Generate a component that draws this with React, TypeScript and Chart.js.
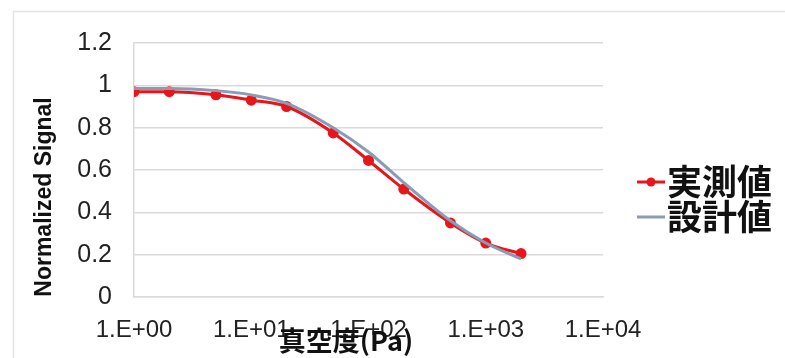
import React, { useEffect, useRef } from "react";
import { Chart, registerables } from "chart.js";

Chart.register(...registerables);

const pressure = [1, 2, 5, 10, 20, 50, 100, 200, 500, 1000, 2000];
const measured = [0.97, 0.97, 0.955, 0.93, 0.9, 0.775, 0.645, 0.51, 0.35, 0.255, 0.205];
const design = [0.985, 0.985, 0.975, 0.955, 0.915, 0.8, 0.685, 0.54, 0.36, 0.255, 0.18];
const seriesNames = ["実測値", "設計値"];
const xTicks = [1, 10, 100, 1000, 10000];
const xTitle = "真空度(Pa)";
const yTitle = "Normalized Signal";

const LATIN = "'Liberation Sans', Arial, sans-serif";
const CJK = "'Noto Sans CJK JP', 'Noto Sans CJK SC', sans-serif";

const fmtX = (v: number) => {
  const e = Math.round(Math.log10(v));
  return "1.E+" + (e < 10 ? "0" + e : String(e));
};

const decor = {
  id: "decor",
  beforeDraw(chart: any) {
    const { ctx, width, height } = chart;
    ctx.save();
    ctx.fillStyle = "#fff";
    ctx.fillRect(0, 0, width, height);
    ctx.strokeStyle = "#e3e3e3";
    ctx.lineWidth = 1.5;
    ctx.strokeRect(13.5, 11.5, width + 20, height + 20);
    ctx.restore();
  },
  afterDraw(chart: any) {
    const { ctx, chartArea } = chart;
    ctx.save();
    ctx.fillStyle = "#111";
    ctx.font = "bold 23px " + LATIN;
    ctx.textAlign = "center";
    ctx.textBaseline = "middle";
    ctx.translate(45, 197);
    ctx.rotate(-Math.PI / 2);
    ctx.fillText(yTitle, 0, 0);
    ctx.restore();

    ctx.save();
    ctx.fillStyle = "#111";
    ctx.font = "bold 27px " + CJK;
    ctx.textAlign = "center";
    ctx.textBaseline = "middle";
    ctx.fillText(xTitle, 346, 341);
    ctx.restore();

    ctx.save();
    const x0 = chartArea.right + 34;
    chart.data.datasets.forEach((ds: any, i: number) => {
      const y = 182 + i * 35;
      ctx.strokeStyle = ds.borderColor;
      ctx.lineWidth = 3;
      ctx.beginPath();
      ctx.moveTo(x0, y);
      ctx.lineTo(x0 + 28, y);
      ctx.stroke();
      if (ds.pointRadius > 0) {
        ctx.fillStyle = ds.pointBackgroundColor;
        ctx.beginPath();
        ctx.arc(x0 + 14, y, 4.5, 0, Math.PI * 2);
        ctx.fill();
      }
      ctx.fillStyle = "#111";
      ctx.font = "bold 35px " + CJK;
      ctx.textAlign = "left";
      ctx.textBaseline = "middle";
      ctx.fillText(ds.label, x0 + 30, y);
    });
    ctx.restore();
  },
};

export default function App() {
  const ref = useRef<HTMLCanvasElement | null>(null);
  useEffect(() => {
    if (!ref.current) return;
    const chart = new Chart(ref.current, {
      type: "line",
      data: {
        datasets: [
          {
            label: seriesNames[0],
            data: pressure.map((p, i) => ({ x: p, y: measured[i] })),
            borderColor: "#e8161b",
            backgroundColor: "#e8161b",
            pointBackgroundColor: "#e8161b",
            pointBorderColor: "#e8161b",
            pointRadius: 4,
            borderWidth: 3,
            cubicInterpolationMode: "monotone",
            order: 2,
          },
          {
            label: seriesNames[1],
            data: pressure.map((p, i) => ({ x: p, y: design[i] })),
            borderColor: "#8a9bb5",
            backgroundColor: "#8a9bb5",
            pointBackgroundColor: "#8a9bb5",
            pointRadius: 0,
            borderWidth: 3,
            cubicInterpolationMode: "monotone",
            order: 1,
          },
        ],
      },
      options: {
        responsive: false,
        animation: false,
        layout: { padding: { left: 0, right: 182, top: 43, bottom: 0 } },
        plugins: { legend: { display: false }, tooltip: { enabled: false } },
        scales: {
          x: {
            type: "logarithmic",
            min: 1,
            max: 10000,
            grid: { display: false },
            border: { display: true, color: "#d9d9d9", width: 1.5 },
            afterBuildTicks: (scale: any) => {
              scale.ticks = xTicks.map((v) => ({ value: v }));
            },
            afterFit: (scale: any) => {
              scale.height = 61;
            },
            ticks: {
              autoSkip: false,
              maxRotation: 0,
              padding: 11,
              color: "#222",
              font: { size: 24, family: LATIN },
              callback: (v: any) => fmtX(Number(v)),
            },
          },
          y: {
            min: 0,
            max: 1.2,
            grid: { color: "#d9d9d9", lineWidth: 1.5, drawTicks: false },
            border: { display: true, color: "#d9d9d9", width: 1.5 },
            afterFit: (scale: any) => {
              scale.width = 134;
            },
            ticks: {
              stepSize: 0.2,
              padding: 22,
              color: "#222",
              font: { size: 25, family: LATIN },
              callback: (v: any) => String(Number(Number(v).toFixed(1))),
            },
          },
        },
      },
      plugins: [decor],
    } as any);
    return () => chart.destroy();
  }, []);
  return (
    <div style={{ position: "fixed", left: 0, top: 0, width: 785, height: 358, background: "#fff" }}>
      <canvas ref={ref} width={785} height={358} style={{ display: "block" }} />
    </div>
  );
}
